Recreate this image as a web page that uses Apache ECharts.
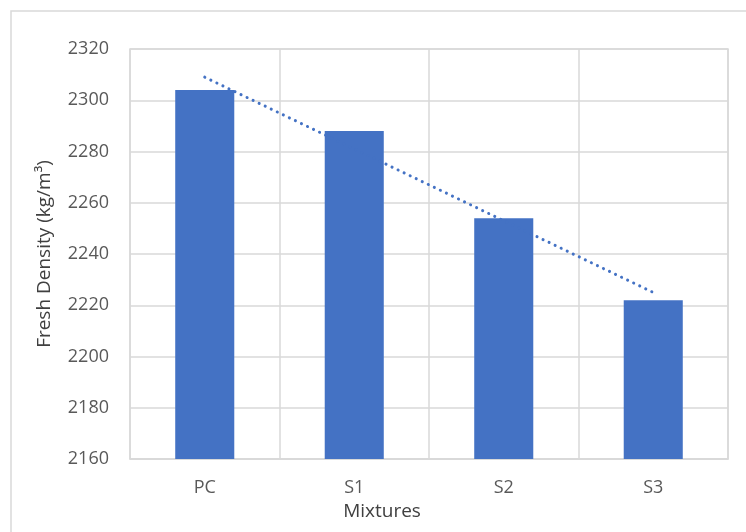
<!DOCTYPE html>
<html><head><meta charset="utf-8">
<script src="https://cdn.jsdelivr.net/npm/echarts@6/dist/echarts.min.js"></script>
<style>html,body{margin:0;padding:0;background:#fff}#c{width:746px;height:532px}</style>
</head><body><div id="c"></div>
<script>
const categories = ['PC', 'S1', 'S2', 'S3'];
const densityValues = [2304, 2288, 2254, 2222];
const yTicks = [2160, 2180, 2200, 2220, 2240, 2260, 2280, 2300, 2320];

// linear trendline (least squares) from the bar values
const n = densityValues.length;
const mx = (n - 1) / 2;
const my = densityValues.reduce((a, b) => a + b, 0) / n;
let sxy = 0, sxx = 0;
densityValues.forEach((v, i) => { sxy += (i - mx) * (v - my); sxx += (i - mx) * (i - mx); });
const slope = sxy / sxx;
const trend = densityValues.map((v, i) => my + slope * (i - mx));

const font = 'Open Sans';
const chart = echarts.init(document.getElementById('c'));
chart.setOption({
  animation: false,
  backgroundColor: '#fff',
  textStyle: { fontFamily: font },
  graphic: [{
    type: 'polyline', silent: true,
    shape: { points: [[11, 540], [11, 11], [760, 11]] },
    style: { stroke: '#d9d9d9', lineWidth: 1.5, fill: null }
  }],
  grid: { left: 130, right: 18, top: 49, bottom: 73, show: true, borderColor: '#d9d9d9', borderWidth: 1.5, containLabel: false },
  xAxis: {
    type: 'category', data: categories, boundaryGap: true,
    name: 'Mixtures', nameLocation: 'middle', nameGap: 27,
    nameTextStyle: { color: '#404040', fontSize: 19, fontFamily: font, padding: [0, 94, 0, 0] },
    axisLine: { show: true, lineStyle: { color: '#d9d9d9', width: 1.5 } },
    axisTick: { show: false },
    axisLabel: { color: '#595959', fontSize: 18, margin: 20, fontFamily: font },
    splitLine: { show: true, lineStyle: { color: '#d9d9d9', width: 1.5 } }
  },
  yAxis: {
    type: 'value', min: yTicks[0], max: yTicks[yTicks.length - 1], interval: 20,
    name: 'Fresh Density (kg/m³)', nameLocation: 'middle', nameGap: 76,
    nameTextStyle: { color: '#404040', fontSize: 19, fontFamily: font },
    axisLine: { show: false }, axisTick: { show: false },
    axisLabel: { color: '#595959', fontSize: 18, margin: 21, fontFamily: font, formatter: v => String(v) },
    splitLine: { show: true, lineStyle: { color: '#d9d9d9', width: 1.5 } }
  },
  series: [{
    type: 'bar', data: densityValues, barWidth: '39.5%',
    itemStyle: { color: '#4472c4' }, z: 2
  }, {
    type: 'line', data: trend, symbol: 'none', z: 3,
    lineStyle: { color: '#4472c4', width: 3, type: [0.1, 6.6], cap: 'round' }
  }]
});
</script></body></html>
